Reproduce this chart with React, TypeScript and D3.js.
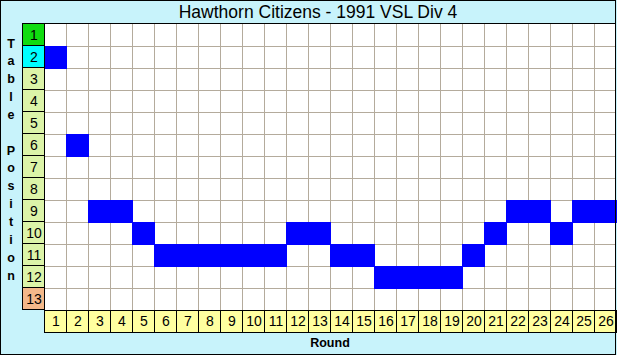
import React from "react";
import * as d3 from "d3";

const rounds: number[] = [1,2,3,4,5,6,7,8,9,10,11,12,13,14,15,16,17,18,19,20,21,22,23,24,25,26];
const positions: number[] = [2,6,9,9,10,11,11,11,11,11,11,10,10,11,11,12,12,12,12,11,10,9,9,10,9,9];
const tableRows: number[] = [1,2,3,4,5,6,7,8,9,10,11,12,13];
const title = "Hawthorn Citizens - 1991 VSL Div 4";
const yTitle = "Table Position";
const xTitle = "Round";

const W = 617, H = 355;
const GX0 = 44, GX1 = 616, GY0 = 24, GY1 = 310;
const LAB_X0 = 22;

function rowFill(r: number) {
  if (r === 1) return "#10dc10";
  if (r === 2) return "#00ffff";
  if (r === 13) return "#f4b88a";
  return "#dcf4a8";
}

export default function App() {
  const x = d3.scaleBand<number>().domain(rounds).range([GX0, GX1]);
  const y = d3.scaleBand<number>().domain(tableRows).range([GY0, GY1]);
  const bw = x.bandwidth();
  const bh = y.bandwidth();
  const font = "'Liberation Sans', Arial, sans-serif";
  const letters = yTitle.split("");

  return (
    <svg width={W} height={H} style={{ position: "absolute", left: 0, top: 0 }} fontFamily={font}>
      <rect x={0} y={0} width={W} height={H} fill="#c8f3fb" />
      <text x={318} y={18} textAnchor="middle" fontSize={17.5} fill="#000">{title}</text>
      {/* plot area */}
      <rect x={GX0} y={GY0} width={GX1 - GX0} height={GY1 - GY0} fill="#ffffff" />
      {/* grid lines */}
      {rounds.slice(1).map((r) => (
        <line key={"v" + r} x1={Math.round(x(r)!) + 0.5} x2={Math.round(x(r)!) + 0.5} y1={GY0} y2={GY1} stroke="#b4ab9c" strokeWidth={1} />
      ))}
      {tableRows.slice(1).map((r) => (
        <line key={"h" + r} y1={Math.round(y(r)!) + 0.5} y2={Math.round(y(r)!) + 0.5} x1={GX0} x2={GX1} stroke="#b4ab9c" strokeWidth={1} />
      ))}
      {/* blue cells */}
      {positions.map((p, i) => (
        <rect key={"c" + i} x={Math.round(x(rounds[i])!)} y={Math.round(y(p)!)} width={Math.round(bw) + 1} height={Math.round(bh) + 1} fill="#0000ff" />
      ))}
      <line x1={GX0} x2={GX1} y1={GY0 - 0.5} y2={GY0 - 0.5} stroke="#000" />
      {/* y label column */}
      {tableRows.map((r) => (
        <g key={"yl" + r}>
          <rect x={LAB_X0 + 0.5} y={Math.round(y(r)!) - 0.5} width={GX0 - LAB_X0} height={Math.round(bh)} fill={rowFill(r)} stroke="#000" strokeWidth={1} />
          <text x={(LAB_X0 + GX0) / 2 + 1} y={y(r)! + 15.5} textAnchor="middle" fontSize={14} fill="#000">{r}</text>
        </g>
      ))}
      {/* x label row */}
      {rounds.map((r) => (
        <g key={"xl" + r}>
          <rect x={Math.round(x(r)!) + 0.5} y={GY1 + 0.5} width={Math.round(bw)} height={22} fill="#ffffa0" stroke="#000" strokeWidth={1} />
          <text x={x(r)! + bw / 2 + 1} y={GY1 + 16} textAnchor="middle" fontSize={14} fill="#000">{r}</text>
        </g>
      ))}
      {/* axis titles */}
      <text x={(GX0 + GX1) / 2} y={347} textAnchor="middle" fontSize={12.5} fontWeight="bold" fill="#000">{xTitle}</text>
      {letters.map((ch, i) => (
        <text key={"yt" + i} x={11} y={43 + i * 17.85 + 4.5} textAnchor="middle" fontSize={12.5} fontWeight="bold" fill="#000">{ch}</text>
      ))}
      {/* outer border */}
      <rect x={0.5} y={0.5} width={615} height={354} fill="none" stroke="#000" strokeWidth={1} />
    </svg>
  );
}
